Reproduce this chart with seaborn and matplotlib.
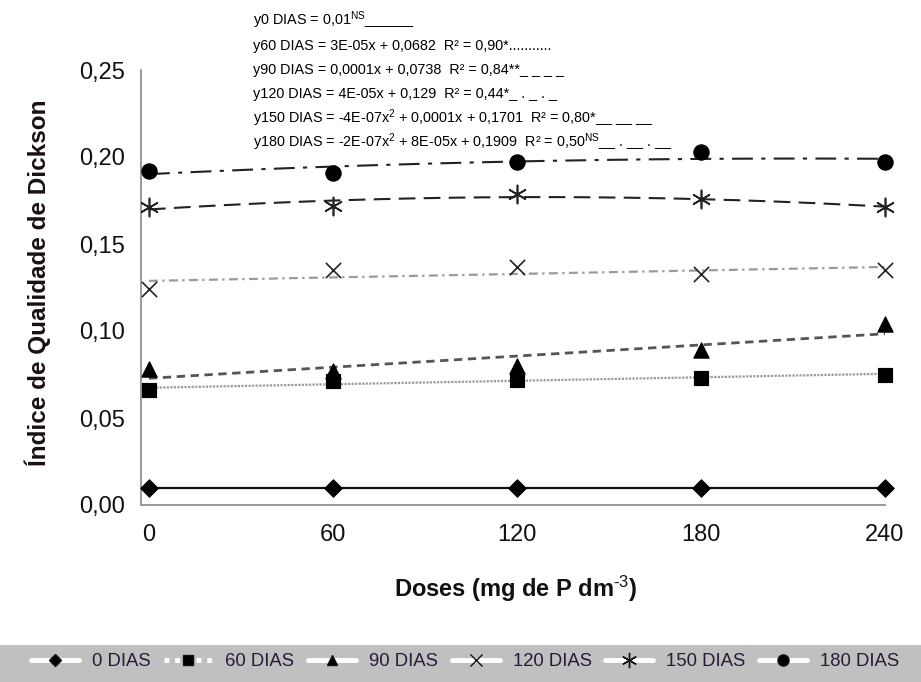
import matplotlib
matplotlib.use("Agg")
import matplotlib.pyplot as plt
from matplotlib.patches import Rectangle
from matplotlib.lines import Line2D
import seaborn as sns
import numpy as np
import pandas as pd

# ---- data ----
doses = [0, 60, 120, 180, 240]
d0 = [0.010, 0.010, 0.010, 0.010, 0.010]
d60 = [0.066, 0.071, 0.072, 0.073, 0.075]
d90 = [0.078, 0.077, 0.080, 0.089, 0.104]
d120 = [0.124, 0.135, 0.137, 0.133, 0.135]
d150 = [0.171, 0.172, 0.179, 0.176, 0.171]
d180 = [0.192, 0.191, 0.197, 0.203, 0.197]
series_names = ["0 DIAS", "60 DIAS", "90 DIAS", "120 DIAS", "150 DIAS", "180 DIAS"]
fit_degree = [0, 1, 1, 1, 2, 2]
yticks = [0.00, 0.05, 0.10, 0.15, 0.20, 0.25]
xticks = [0, 60, 120, 180, 240]
equations = [
    "y0 DIAS = 0,01$^{\\mathrm{NS}}$______",
    "y60 DIAS = 3E-05x + 0,0682  R² = 0,90*...........",
    "y90 DIAS = 0,0001x + 0,0738  R² = 0,84**_ _ _ _",
    "y120 DIAS = 4E-05x + 0,129  R² = 0,44*_ . _ . _",
    "y150 DIAS = -4E-07x$^{\\mathrm{2}}$ + 0,0001x + 0,1701  R² = 0,80*__ __ __",
    "y180 DIAS = -2E-07x$^{\\mathrm{2}}$ + 8E-05x + 0,1909  R² = 0,50$^{\\mathrm{NS}}$__ . __ . __",
]

values = [d0, d60, d90, d120, d150, d180]
df = pd.DataFrame({
    "dose": doses * len(series_names),
    "iqd": sum(values, []),
    "serie": np.repeat(series_names, len(doses)),
})

sns.set_theme(style="white")
plt.rcParams["font.family"] = ["Liberation Sans", "DejaVu Sans"]
plt.rcParams["mathtext.fontset"] = "custom"
plt.rcParams["mathtext.rm"] = "Liberation Sans"
plt.rcParams["mathtext.it"] = "Liberation Sans:italic"
plt.rcParams["mathtext.bf"] = "Liberation Sans:bold"

fig = plt.figure(figsize=(9.21, 6.82), dpi=100)
ax = fig.add_axes([141 / 921, 1 - 505 / 682, (885 - 141) / 921, (505 - 70) / 682])

markers = ["D", "s", "^", "x", (6, 2, 0), "o"]
msizes = [80, 110, 120, 120, 170, 120]
line_styles = ["-", (0, (1, 0.6)), (0, (3, 2)), (0, (4, 2, 1, 2)), (0, (8, 4)), (0, (10, 4, 2, 4))]
line_colors = ["#111111", "#9a9a9a", "#555555", "#9a9a9a", "#222222", "#222222"]
line_widths = [1.6, 1.6, 2.0, 1.6, 1.5, 1.5]

xfine = np.linspace(0, 240, 200)
for i, name in enumerate(series_names):
    sub = df[df["serie"] == name]
    if fit_degree[i] == 0:
        sns.lineplot(x=sub["dose"], y=sub["iqd"], ax=ax, color=line_colors[i],
                     linestyle=line_styles[i], linewidth=line_widths[i], zorder=2)
    else:
        coef = np.polyfit(sub["dose"], sub["iqd"], fit_degree[i])
        sns.lineplot(x=xfine, y=np.polyval(coef, xfine), ax=ax, color=line_colors[i],
                     linestyle=line_styles[i], linewidth=line_widths[i], zorder=2)
    m = markers[i]
    if m in ("x",) or isinstance(m, tuple):
        ax.scatter(sub["dose"], sub["iqd"], marker=m, s=msizes[i], c="#222222",
                   linewidths=1.2, zorder=3, clip_on=False)
    else:
        sns.scatterplot(x=sub["dose"], y=sub["iqd"], ax=ax, marker=m, s=msizes[i],
                        color="black", edgecolor="black", zorder=3, clip_on=False,
                        legend=False)

ax.set_xlim(-2.6, 240)
ax.set_ylim(0, 0.25)
ax.set_xticks(xticks)
ax.set_xticklabels([str(v) for v in xticks], fontsize=17)
ax.set_yticks(yticks)
ax.set_yticklabels([f"{v:.2f}".replace(".", ",") for v in yticks], fontsize=17)
for s in ["top", "right"]:
    ax.spines[s].set_visible(False)
for s in ["left", "bottom"]:
    ax.spines[s].set_color("#888888")
    ax.spines[s].set_linewidth(1.2)
ax.tick_params(axis="both", which="both", direction="out", length=6, width=1.2,
               color="#888888", labelcolor="#111111")
ax.tick_params(axis="y", pad=5.5)
ax.tick_params(axis="x", pad=7.5)
ax.set_xlabel("")
ax.set_ylabel("")

fig.text(38 / 921, 1 - 283 / 682, "Índice de Qualidade de Dickson", rotation=90,
         ha="center", va="center", fontsize=17.5, fontweight="bold", color="#1a1010")
fig.text(516 / 921, 1 - 589 / 682, "Doses (mg de P dm$^{\\text{-3}}$)", ha="center", va="center",
         fontsize=17, fontweight="bold", color="#111111")

eq_y = [20, 46, 70, 94, 118, 142]
for txt, yy in zip(equations, eq_y):
    fig.text(253 / 921, 1 - yy / 682, txt, ha="left", va="center", fontsize=10.4, color="black")

# legend band
fig.patches.append(Rectangle((0, 0), 1, 1 - 645 / 682, transform=fig.transFigure,
                             facecolor="#c0c0c0", edgecolor="none", zorder=0))
leg_ls = ["-", (0, (1, 1.2)), "-", "-", "-", "-"]
leg_ms = [6.5, 7, 7.5, 9, 11, 8]
handles = []
for i, name in enumerate(series_names):
    m = markers[i]
    handles.append(Line2D([0], [0], color="white", lw=3.5, linestyle=leg_ls[i], marker=m,
                          markersize=leg_ms[i], markerfacecolor="black",
                          markeredgecolor="#111111", markeredgewidth=1.0))
fig.legend(handles, series_names, loc="center", bbox_to_anchor=(0.505, 1 - 662 / 682),
           ncol=6, frameon=False, handlelength=2.6, columnspacing=0.75, handletextpad=0.7,
           prop={"family": ["Liberation Sans", "DejaVu Sans"], "size": 13.3},
           labelcolor="#2a1a3a")

fig.savefig("out.png", dpi=100)
